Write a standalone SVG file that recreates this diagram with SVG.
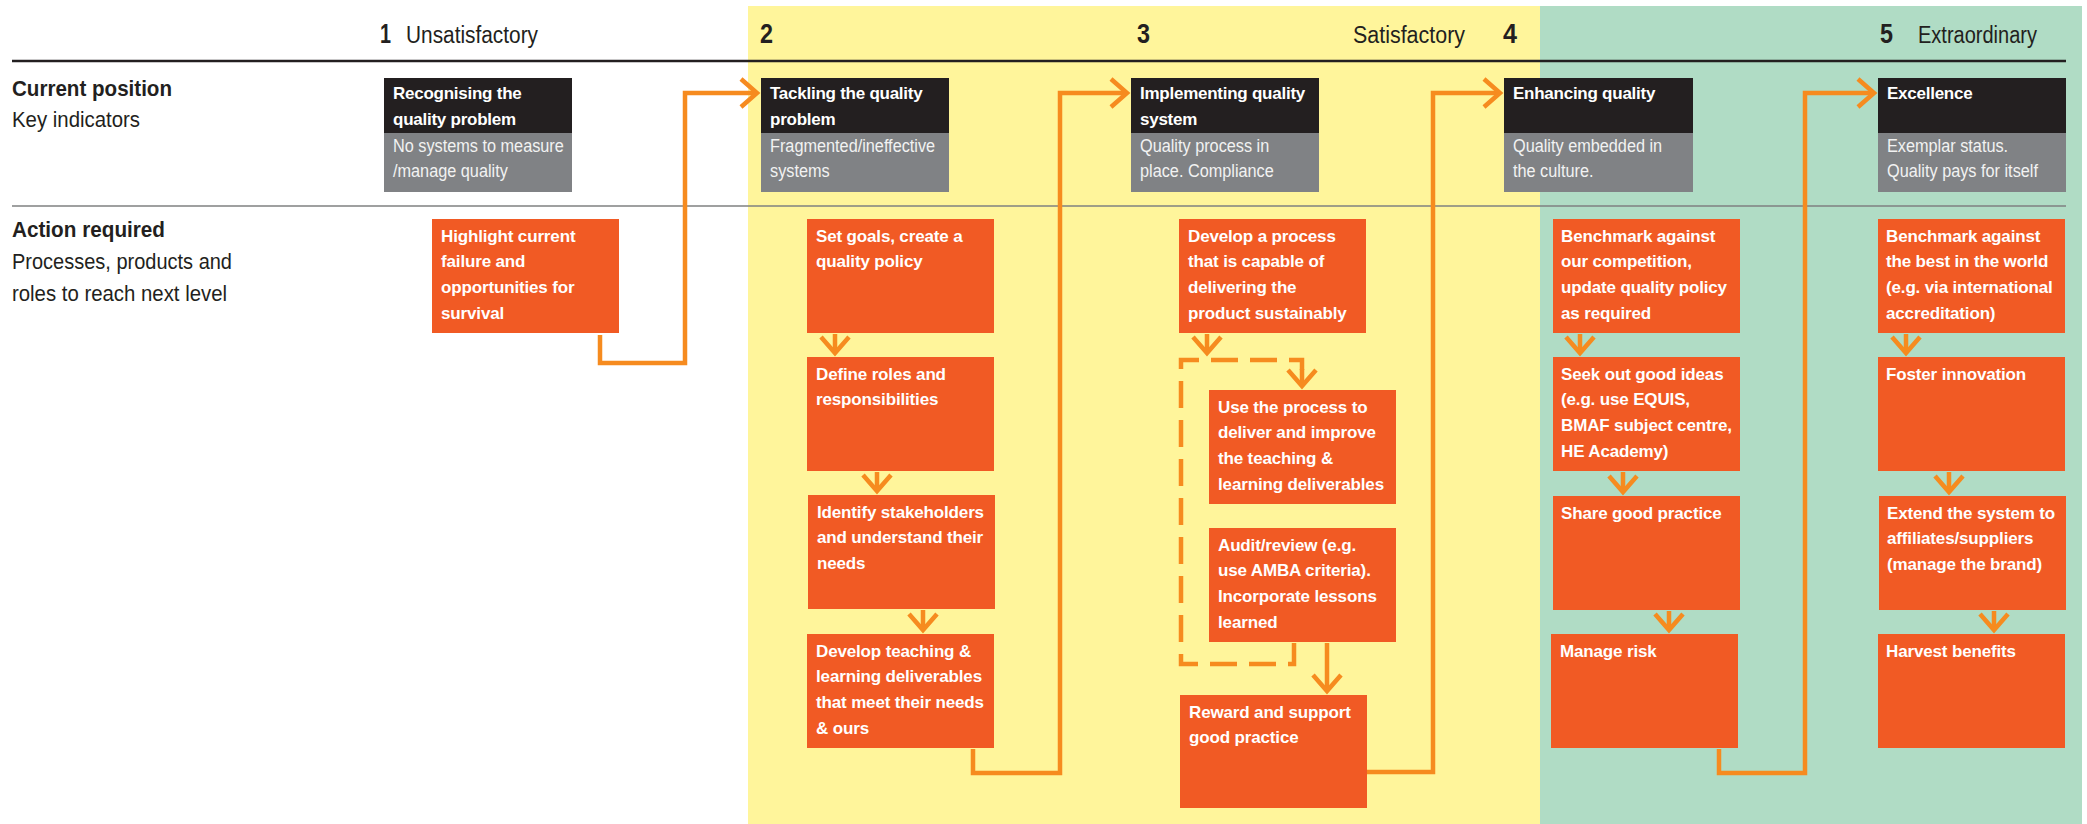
<svg xmlns="http://www.w3.org/2000/svg" width="2087" height="824" viewBox="0 0 2087 824">
<style>
.bg-y{fill:#fff59b}
.bg-g{fill:#b0dcc5}
.rule1{stroke:#231f20;stroke-width:2.5}
.rule2{stroke:#7f8080;stroke-width:1.6}
.hd{font-family:"Liberation Sans",Arial,sans-serif;fill:#231f20}
.num{font-weight:bold;font-size:28px}
.lvl{font-size:23px}
.lbl-b{font-family:"Liberation Sans",Arial,sans-serif;font-weight:bold;font-size:22px;fill:#231f20}
.lbl{font-family:"Liberation Sans",Arial,sans-serif;font-size:22px;fill:#231f20}
.ttl{fill:#231f20}
.sub{fill:#808285}
.ttl-t{font-family:"Liberation Sans",Arial,sans-serif;font-weight:bold;font-size:17px;fill:#ffffff;letter-spacing:-0.25px}
.sub-t{font-family:"Liberation Sans",Arial,sans-serif;font-size:18.5px;fill:#f2f2f2}
.act{fill:#f15a24}
.act-t{font-family:"Liberation Sans",Arial,sans-serif;font-weight:bold;font-size:17px;fill:#ffffff;letter-spacing:-0.15px}
.con{fill:none;stroke:#f68b1f;stroke-width:4.5;marker-end:url(#chev)}
.open{fill:none;stroke:#f68b1f;stroke-width:4.5}
.dash{stroke-dasharray:27 12}
</style>
<defs>
<marker id="chev" markerUnits="userSpaceOnUse" markerWidth="40" markerHeight="40" refX="0" refY="0" orient="auto" style="overflow:visible">
<path d="M-16,-14 L0,0 L-16,14" fill="none" stroke="#f68b1f" stroke-width="4.5"/>
</marker>
</defs>

<g id="background">
<rect class="bg-y" x="748" y="6" width="792" height="818"/>
<rect class="bg-g" x="1540" y="6" width="542" height="818"/>
<line class="rule1" x1="12" y1="61" x2="2066" y2="61"/>
<line class="rule2" x1="12" y1="206" x2="2066" y2="206"/>
</g>

<g id="header" class="hd">
<text class="hd num" x="380" y="43" textLength="11" lengthAdjust="spacingAndGlyphs">1</text>
<text class="hd lvl" x="406" y="43" textLength="132" lengthAdjust="spacingAndGlyphs">Unsatisfactory</text>
<text class="hd num" x="760" y="43" textLength="13" lengthAdjust="spacingAndGlyphs">2</text>
<text class="hd num" x="1137" y="43" textLength="13" lengthAdjust="spacingAndGlyphs">3</text>
<text class="hd lvl" x="1353" y="43" textLength="112" lengthAdjust="spacingAndGlyphs">Satisfactory</text>
<text class="hd num" x="1503" y="43" textLength="14" lengthAdjust="spacingAndGlyphs">4</text>
<text class="hd num" x="1880" y="43" textLength="13" lengthAdjust="spacingAndGlyphs">5</text>
<text class="hd lvl" x="1918" y="43" textLength="119" lengthAdjust="spacingAndGlyphs">Extraordinary</text>
</g>

<g id="row-labels">
<text class="lbl-b" x="12" y="96" textLength="160" lengthAdjust="spacingAndGlyphs">Current position</text>
<text class="lbl" x="12" y="127" textLength="128" lengthAdjust="spacingAndGlyphs">Key indicators</text>
<text class="lbl-b" x="12" y="237" textLength="153" lengthAdjust="spacingAndGlyphs">Action required</text>
<text class="lbl" x="12" y="269" textLength="220" lengthAdjust="spacingAndGlyphs">Processes, products and</text>
<text class="lbl" x="12" y="301" textLength="215" lengthAdjust="spacingAndGlyphs">roles to reach next level</text>
</g>

<g id="level1-recognising">
<rect class="ttl" x="384" y="78" width="188" height="55"/>
<rect class="sub" x="384" y="133" width="188" height="59"/>
<text class="ttl-t" x="393" y="99"><tspan x="393">Recognising the</tspan><tspan x="393" dy="25.7">quality problem</tspan></text>
<text class="sub-t" transform="translate(393 152) scale(0.88 1)"><tspan x="0">No systems to measure</tspan><tspan x="0" dy="25">/manage quality</tspan></text>
</g>

<g id="level2-tackling">
<rect class="ttl" x="761" y="78" width="188" height="55"/>
<rect class="sub" x="761" y="133" width="188" height="59"/>
<text class="ttl-t" x="770" y="99"><tspan x="770">Tackling the quality</tspan><tspan x="770" dy="25.7">problem</tspan></text>
<text class="sub-t" transform="translate(770 152) scale(0.88 1)"><tspan x="0">Fragmented/ineffective</tspan><tspan x="0" dy="25">systems</tspan></text>
</g>

<g id="level3-implementing">
<rect class="ttl" x="1131" y="78" width="188" height="55"/>
<rect class="sub" x="1131" y="133" width="188" height="59"/>
<text class="ttl-t" x="1140" y="99"><tspan x="1140">Implementing quality</tspan><tspan x="1140" dy="25.7">system</tspan></text>
<text class="sub-t" transform="translate(1140 152) scale(0.88 1)"><tspan x="0">Quality process in</tspan><tspan x="0" dy="25">place. Compliance</tspan></text>
</g>

<g id="level4-enhancing">
<rect class="ttl" x="1504" y="78" width="189" height="55"/>
<rect class="sub" x="1504" y="133" width="189" height="59"/>
<text class="ttl-t" x="1513" y="99">Enhancing quality</text>
<text class="sub-t" transform="translate(1513 152) scale(0.88 1)"><tspan x="0">Quality embedded in</tspan><tspan x="0" dy="25">the culture.</tspan></text>
</g>

<g id="level5-excellence">
<rect class="ttl" x="1878" y="78" width="188" height="55"/>
<rect class="sub" x="1878" y="133" width="188" height="59"/>
<text class="ttl-t" x="1887" y="99">Excellence</text>
<text class="sub-t" transform="translate(1887 152) scale(0.88 1)"><tspan x="0">Exemplar status.</tspan><tspan x="0" dy="25">Quality pays for itself</tspan></text>
</g>

<g id="a-highlight">
<rect class="act" x="432" y="219" width="187" height="114"/>
<text class="act-t" x="441" y="241.5"><tspan x="441">Highlight current</tspan><tspan x="441" dy="25.7">failure and</tspan><tspan x="441" dy="25.7">opportunities for</tspan><tspan x="441" dy="25.7">survival</tspan></text>
</g>

<g id="a-set-goals">
<rect class="act" x="807" y="219" width="187" height="114"/>
<text class="act-t" x="816" y="241.5"><tspan x="816">Set goals, create a</tspan><tspan x="816" dy="25.7">quality policy</tspan></text>
</g>

<g id="a-define-roles">
<rect class="act" x="807" y="357" width="187" height="114"/>
<text class="act-t" x="816" y="379.5"><tspan x="816">Define roles and</tspan><tspan x="816" dy="25.7">responsibilities</tspan></text>
</g>

<g id="a-identify">
<rect class="act" x="808" y="495" width="187" height="114"/>
<text class="act-t" x="817" y="517.5"><tspan x="817">Identify stakeholders</tspan><tspan x="817" dy="25.7">and understand their</tspan><tspan x="817" dy="25.7">needs</tspan></text>
</g>

<g id="a-develop-teaching">
<rect class="act" x="807" y="634" width="187" height="114"/>
<text class="act-t" x="816" y="656.5"><tspan x="816">Develop teaching &amp;</tspan><tspan x="816" dy="25.7">learning deliverables</tspan><tspan x="816" dy="25.7">that meet their needs</tspan><tspan x="816" dy="25.7">&amp; ours</tspan></text>
</g>

<g id="a-develop-process">
<rect class="act" x="1179" y="219" width="187" height="114"/>
<text class="act-t" x="1188" y="241.5"><tspan x="1188">Develop a process</tspan><tspan x="1188" dy="25.7">that is capable of</tspan><tspan x="1188" dy="25.7">delivering the</tspan><tspan x="1188" dy="25.7">product sustainably</tspan></text>
</g>

<g id="a-use-process">
<rect class="act" x="1209" y="390" width="187" height="114"/>
<text class="act-t" x="1218" y="412.5"><tspan x="1218">Use the process to</tspan><tspan x="1218" dy="25.7">deliver and improve</tspan><tspan x="1218" dy="25.7">the teaching &amp;</tspan><tspan x="1218" dy="25.7">learning deliverables</tspan></text>
</g>

<g id="a-audit">
<rect class="act" x="1209" y="528" width="187" height="114"/>
<text class="act-t" x="1218" y="550.5"><tspan x="1218">Audit/review (e.g.</tspan><tspan x="1218" dy="25.7">use AMBA criteria).</tspan><tspan x="1218" dy="25.7">Incorporate lessons</tspan><tspan x="1218" dy="25.7">learned</tspan></text>
</g>

<g id="a-reward">
<rect class="act" x="1180" y="695" width="187" height="113"/>
<text class="act-t" x="1189" y="717.5"><tspan x="1189">Reward and support</tspan><tspan x="1189" dy="25.7">good practice</tspan></text>
</g>

<g id="a-benchmark-competition">
<rect class="act" x="1553" y="219" width="187" height="114"/>
<text class="act-t" x="1561" y="241.5"><tspan x="1561">Benchmark against</tspan><tspan x="1561" dy="25.7">our competition,</tspan><tspan x="1561" dy="25.7">update quality policy</tspan><tspan x="1561" dy="25.7">as required</tspan></text>
</g>

<g id="a-seek-ideas">
<rect class="act" x="1553" y="357" width="187" height="114"/>
<text class="act-t" x="1561" y="379.5"><tspan x="1561">Seek out good ideas</tspan><tspan x="1561" dy="25.7">(e.g. use EQUIS,</tspan><tspan x="1561" dy="25.7">BMAF subject centre,</tspan><tspan x="1561" dy="25.7">HE Academy)</tspan></text>
</g>

<g id="a-share-practice">
<rect class="act" x="1553" y="496" width="187" height="114"/>
<text class="act-t" x="1561" y="518.5">Share good practice</text>
</g>

<g id="a-manage-risk">
<rect class="act" x="1551" y="634" width="187" height="114"/>
<text class="act-t" x="1560" y="656.5">Manage risk</text>
</g>

<g id="a-benchmark-best">
<rect class="act" x="1878" y="219" width="187" height="114"/>
<text class="act-t" x="1886" y="241.5"><tspan x="1886">Benchmark against</tspan><tspan x="1886" dy="25.7">the best in the world</tspan><tspan x="1886" dy="25.7">(e.g. via international</tspan><tspan x="1886" dy="25.7">accreditation)</tspan></text>
</g>

<g id="a-foster-innovation">
<rect class="act" x="1878" y="357" width="187" height="114"/>
<text class="act-t" x="1886" y="379.5">Foster innovation</text>
</g>

<g id="a-extend-system">
<rect class="act" x="1879" y="496" width="187" height="114"/>
<text class="act-t" x="1887" y="518.5"><tspan x="1887">Extend the system to</tspan><tspan x="1887" dy="25.7">affiliates/suppliers</tspan><tspan x="1887" dy="25.7">(manage the brand)</tspan></text>
</g>

<g id="a-harvest">
<rect class="act" x="1878" y="634" width="187" height="114"/>
<text class="act-t" x="1886" y="656.5">Harvest benefits</text>
</g>

<g id="connectors">
<path class="con" d="M600,335 V363 H685 V93 H757"/>
<path class="con" d="M973,749 V773 H1060 V93 H1127"/>
<path class="con" d="M1367,772 H1433 V93 H1500"/>
<path class="con" d="M1719,749 V773 H1805 V93 H1874"/>
<path class="con" d="M835,334 V353"/>
<path class="con" d="M877,472 V491"/>
<path class="con" d="M923,610 V630"/>
<path class="con" d="M1207,334 V353"/>
<path class="open dash" d="M1294,643 V664 H1181 V360 H1302 V370"/>
<path class="con" d="M1302,369 V386"/>
<path class="con" d="M1327,643 V691"/>
<path class="con" d="M1580,334 V353"/>
<path class="con" d="M1623,472 V492"/>
<path class="con" d="M1669,611 V630"/>
<path class="con" d="M1906,334 V353"/>
<path class="con" d="M1949,472 V492"/>
<path class="con" d="M1994,611 V630"/>
</g>
</svg>
